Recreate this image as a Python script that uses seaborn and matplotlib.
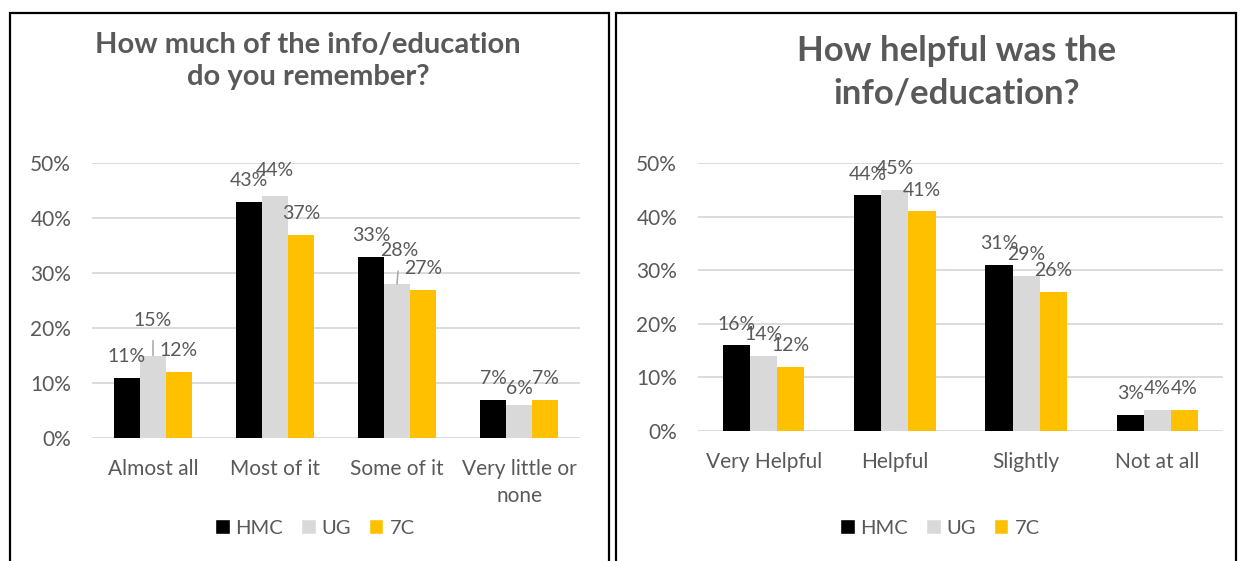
import textwrap

import numpy as np
import pandas as pd
import matplotlib.pyplot as plt
import matplotlib.patches as mpatches
from matplotlib.ticker import FuncFormatter
import seaborn as sns

# ---- data -------------------------------------------------------------
GROUPS = ["HMC", "UG", "7C"]

REMEMBER_TITLE = "How much of the info/education\ndo you remember?"
REMEMBER_CATS = ["Almost all", "Most of it", "Some of it", "Very little or none"]
REMEMBER_HMC = [11, 43, 33, 7]
REMEMBER_UG = [15, 44, 28, 6]
REMEMBER_7C = [12, 37, 27, 7]

HELPFUL_TITLE = "How helpful was the\ninfo/education?"
HELPFUL_CATS = ["Very Helpful", "Helpful", "Slightly", "Not at all"]
HELPFUL_HMC = [16, 44, 31, 3]
HELPFUL_UG = [14, 45, 29, 4]
HELPFUL_7C = [12, 41, 26, 4]

# ---- style ------------------------------------------------------------
PALETTE = {"HMC": "#000000", "UG": "#D9D9D9", "7C": "#FFC000"}
TEXT_COLOR = "#595959"
GRID_COLOR = "#D9D9D9"
LEADER_COLOR = "#A6A6A6"

W, H = 1240, 561

sns.set_style("white")
plt.rcParams["font.family"] = ["Lato", "DejaVu Sans"]


def long_frame(cats, hmc, ug, c7):
    rows = []
    for g, vals in zip(GROUPS, [hmc, ug, c7]):
        for c, v in zip(cats, vals):
            rows.append({"category": c, "group": g, "value": v})
    return pd.DataFrame(rows)


def px(x0, y0, x1, y1):
    # pixel box (top-left origin) -> figure fraction [l, b, w, h]
    return [x0 / W, 1 - y1 / H, (x1 - x0) / W, (y1 - y0) / H]


def draw_panel(fig, rect, df, cats, width, nudges):
    ax = fig.add_axes(rect)
    sns.barplot(data=df, x="category", y="value", hue="group",
                order=cats, hue_order=GROUPS, palette=PALETTE,
                width=width, gap=0, saturation=1, legend=False,
                edgecolor="none", ax=ax)

    ax.set_ylim(0, 50)
    ax.set_yticks(np.arange(0, 51, 10))
    ax.yaxis.set_major_formatter(FuncFormatter(lambda v, _: f"{v:.0f}%"))
    ax.grid(axis="y", color=GRID_COLOR, lw=1.3, zorder=0)
    ax.set_axisbelow(True)
    sns.despine(ax=ax, left=True, bottom=True)
    ax.set_xlabel("")
    ax.set_ylabel("")
    ax.set_xticks(range(len(cats)))
    ax.set_xticklabels([textwrap.fill(c, 14) for c in cats])
    ax.tick_params(axis="both", length=0, labelsize=15,
                   labelcolor=TEXT_COLOR)
    ax.tick_params(axis="y", pad=15)
    ax.tick_params(axis="x", pad=15)
    for lbl in ax.get_xticklabels():
        lbl.set_linespacing(1.45)

    # data labels
    for j, cont in enumerate(ax.containers):
        for i, bar in enumerate(cont):
            h = bar.get_height()
            cx = bar.get_x() + bar.get_width() / 2
            dx, dy, leader = nudges.get((i, j), (0, 0, False))
            kw = {}
            if leader:
                kw["arrowprops"] = dict(arrowstyle="-", color=LEADER_COLOR,
                                        lw=1.1, shrinkA=6, shrinkB=0,
                                        relpos=(0.5, 0))
            ax.annotate(f"{h:.0f}%", xy=(cx, h),
                        xytext=(dx * 0.72, 9 + dy * 0.72),
                        textcoords="offset points", ha="center", va="bottom",
                        fontsize=14, color=TEXT_COLOR, **kw)
    return ax


fig = plt.figure(figsize=(W / 100, H / 100), dpi=100)
fig.patch.set_facecolor("white")

# panel frames
for x0, x1 in [(10, 609), (616, 1236)]:
    fig.add_artist(mpatches.Rectangle((x0 / W, -0.05), (x1 - x0) / W,
                                      1.05 - 13 / H, transform=fig.transFigure,
                                      fill=False, edgecolor="black", lw=1.6))

df_rem = long_frame(REMEMBER_CATS, REMEMBER_HMC, REMEMBER_UG, REMEMBER_7C)
df_help = long_frame(HELPFUL_CATS, HELPFUL_HMC, HELPFUL_UG, HELPFUL_7C)

# (category index, group index) -> (dx px, dy px, leader line)
rem_nudges = {(0, 1): (0, 14, True), (1, 1): (0, 5, False),
              (2, 1): (2, 12, True), (3, 1): (0, -4, False)}

draw_panel(fig, px(92, 163, 580, 438), df_rem, REMEMBER_CATS, 0.64, rem_nudges)
draw_panel(fig, px(698, 163, 1223, 431), df_help, HELPFUL_CATS, 0.62, {})

fig.text(308 / W, 1 - 61 / H, REMEMBER_TITLE, ha="center", va="center",
         fontsize=21, fontweight="bold", color=TEXT_COLOR, linespacing=1.3)
fig.text(957 / W, 1 - 72 / H, HELPFUL_TITLE, ha="center", va="center",
         fontsize=25, fontweight="bold", color=TEXT_COLOR, linespacing=1.4)

handles = [mpatches.Patch(facecolor=PALETTE[g], label=g) for g in GROUPS]
for cx in [315, 940]:
    fig.legend(handles=handles, loc="center", ncol=3, frameon=False,
               bbox_to_anchor=(cx / W, 1 - 528 / H), fontsize=14.5,
               handlelength=0.7, handleheight=0.7, handletextpad=0.3,
               columnspacing=0.9, labelcolor=TEXT_COLOR)

fig.savefig("out.png", dpi=100, facecolor="white")
